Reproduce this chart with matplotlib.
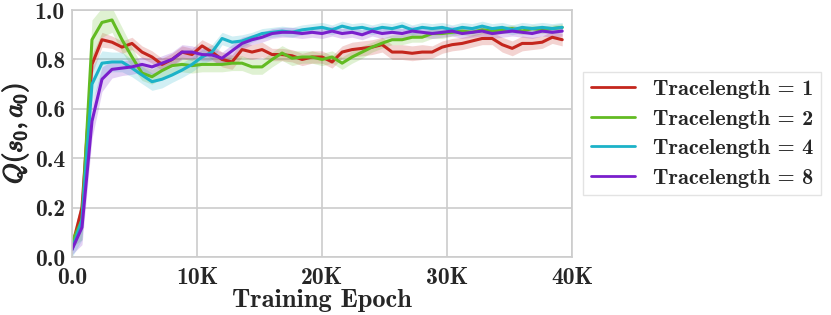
import numpy as np
import matplotlib
matplotlib.use("Agg")
import matplotlib.pyplot as plt
import matplotlib.patheffects as pe

# sampled every 800 training epochs
epochs = np.arange(50) * 800

q_tl1 = [0.04, 0.20, 0.78, 0.88, 0.87, 0.85, 0.865, 0.83, 0.81, 0.78,
         0.80, 0.83, 0.82, 0.855, 0.83, 0.80, 0.79, 0.84, 0.83, 0.84,
         0.82, 0.82, 0.815, 0.80, 0.81, 0.81, 0.79, 0.83, 0.84, 0.845,
         0.85, 0.86, 0.83, 0.83, 0.825, 0.83, 0.83, 0.85, 0.86, 0.865,
         0.875, 0.885, 0.885, 0.86, 0.845, 0.865, 0.865, 0.87, 0.89, 0.88]
q_tl2 = [0.06, 0.15, 0.88, 0.95, 0.96, 0.88, 0.81, 0.745, 0.73, 0.755,
         0.775, 0.78, 0.775, 0.78, 0.78, 0.78, 0.785, 0.785, 0.77, 0.77,
         0.80, 0.826, 0.805, 0.81, 0.81, 0.80, 0.81, 0.785, 0.81, 0.83,
         0.85, 0.866, 0.88, 0.88, 0.89, 0.89, 0.905, 0.905, 0.91, 0.915,
         0.91, 0.92, 0.915, 0.92, 0.925, 0.915, 0.925, 0.92, 0.925, 0.93]
q_tl4 = [0.03, 0.15, 0.70, 0.785, 0.79, 0.79, 0.765, 0.737, 0.71, 0.72,
         0.737, 0.757, 0.78, 0.81, 0.83, 0.885, 0.87, 0.875, 0.89, 0.905,
         0.91, 0.915, 0.91, 0.92, 0.925, 0.93, 0.92, 0.935, 0.925, 0.93,
         0.92, 0.93, 0.925, 0.935, 0.92, 0.93, 0.925, 0.93, 0.92, 0.93,
         0.925, 0.935, 0.925, 0.93, 0.92, 0.93, 0.925, 0.93, 0.925, 0.93]
q_tl8 = [0.03, 0.12, 0.55, 0.72, 0.76, 0.765, 0.77, 0.78, 0.77, 0.785,
         0.80, 0.83, 0.83, 0.82, 0.818, 0.805, 0.835, 0.865, 0.88, 0.89,
         0.905, 0.91, 0.91, 0.905, 0.91, 0.905, 0.915, 0.905, 0.91, 0.90,
         0.915, 0.905, 0.91, 0.905, 0.915, 0.91, 0.905, 0.91, 0.915, 0.905,
         0.91, 0.915, 0.905, 0.91, 0.915, 0.91, 0.905, 0.915, 0.91, 0.915]

# std band half widths
sd_tl1 = [0.01, 0.05, 0.04, 0.03, 0.025, 0.025, 0.025, 0.025, 0.025, 0.025,
          0.025, 0.025, 0.025, 0.025, 0.03, 0.03, 0.03, 0.03, 0.03, 0.03,
          0.025, 0.025, 0.025, 0.025, 0.025, 0.025, 0.025, 0.025, 0.03, 0.03,
          0.03, 0.03, 0.03, 0.03, 0.03, 0.03, 0.025, 0.025, 0.025, 0.025,
          0.025, 0.025, 0.025, 0.03, 0.03, 0.03, 0.025, 0.025, 0.025, 0.025]
sd_tl2 = [0.02, 0.08, 0.08, 0.06, 0.05, 0.05, 0.04, 0.03, 0.03, 0.03,
          0.03, 0.03, 0.03, 0.03, 0.03, 0.03, 0.03, 0.03, 0.03, 0.03,
          0.03, 0.03, 0.03, 0.025, 0.025, 0.025, 0.025, 0.025, 0.025, 0.025,
          0.02, 0.02, 0.02, 0.02, 0.02, 0.02, 0.02, 0.02, 0.015, 0.015,
          0.015, 0.015, 0.015, 0.015, 0.015, 0.015, 0.015, 0.015, 0.015, 0.015]
sd_tl4 = [0.03, 0.08, 0.07, 0.05, 0.04, 0.04, 0.035, 0.035, 0.035, 0.035,
          0.03, 0.03, 0.03, 0.03, 0.03, 0.025, 0.025, 0.025, 0.02, 0.02,
          0.02, 0.02, 0.02, 0.02, 0.02, 0.02, 0.02, 0.02, 0.02, 0.02,
          0.02, 0.02, 0.02, 0.02, 0.02, 0.02, 0.02, 0.02, 0.02, 0.02,
          0.02, 0.02, 0.02, 0.02, 0.02, 0.02, 0.02, 0.02, 0.02, 0.02]
sd_tl8 = [0.02, 0.07, 0.07, 0.05, 0.035, 0.03, 0.03, 0.03, 0.03, 0.03,
          0.03, 0.03, 0.025, 0.025, 0.025, 0.025, 0.025, 0.025, 0.02, 0.02,
          0.02, 0.02, 0.02, 0.02, 0.02, 0.02, 0.02, 0.02, 0.02, 0.02,
          0.02, 0.02, 0.02, 0.02, 0.02, 0.02, 0.02, 0.02, 0.02, 0.02,
          0.02, 0.02, 0.02, 0.02, 0.02, 0.02, 0.02, 0.02, 0.02, 0.02]

labels = ["Tracelength = 1", "Tracelength = 2", "Tracelength = 4", "Tracelength = 8"]
colors = ["#c4261d", "#62bb22", "#1cb2c8", "#7a1fcc"]

x_ticks = [0, 10000, 20000, 30000, 40000]
x_ticklabels = ["0.0", "10K", "20K", "30K", "40K"]
y_ticks = [0.0, 0.2, 0.4, 0.6, 0.8, 1.0]

plt.style.use("seaborn-v0_8-whitegrid")
plt.rcParams["font.family"] = ["cmb10", "DejaVu Serif"]
plt.rcParams["mathtext.fontset"] = "cm"
plt.rcParams["axes.unicode_minus"] = False

fig = plt.figure(figsize=(8.31, 3.15), dpi=100)
ax = fig.add_axes([0.0866, 0.184, 0.602, 0.784])

for q, sd, lab, c in zip([q_tl1, q_tl2, q_tl4, q_tl8], [sd_tl1, sd_tl2, sd_tl4, sd_tl8], labels, colors):
    q = np.array(q)
    sd = np.array(sd)
    ax.fill_between(epochs, q - sd, q + sd, color=c, alpha=0.2, lw=0)
    ax.plot(epochs, q, color=c, lw=2.2, label=lab)

ax.set_xlim(0, 40000)
ax.set_ylim(0, 1.0)
ax.set_xticks(x_ticks)
ax.set_xticklabels(x_ticklabels)
ax.set_yticks(y_ticks)
ax.set_yticklabels(["%.1f" % v for v in y_ticks])
ax.tick_params(labelsize=17, colors="#262626")
ax.tick_params(axis="x", pad=7)
ax.tick_params(axis="y", pad=5)
ax.grid(True, color="#cccccc", lw=1.2)
for s in ax.spines.values():
    s.set_color("#cccccc")
    s.set_linewidth(1.2)

ax.set_xlabel("Training Epoch", fontsize=19, color="#262626", labelpad=0)
yl = ax.set_ylabel(r"$Q(s_0,a_0)$", fontsize=19, color="#262626", labelpad=3)
yl.set_path_effects([pe.withStroke(linewidth=0.9, foreground="#262626")])

leg = ax.legend(loc="center left", bbox_to_anchor=(1.022, 0.5), fontsize=16,
                frameon=True, fancybox=False, handlelength=2.0, borderpad=0.35,
                labelspacing=0.45, handletextpad=0.8, borderaxespad=0)
leg.get_frame().set_edgecolor("#dddddd")
for line in leg.get_lines():
    line.set_linewidth(2)

fig.savefig("out.png", dpi=100)
